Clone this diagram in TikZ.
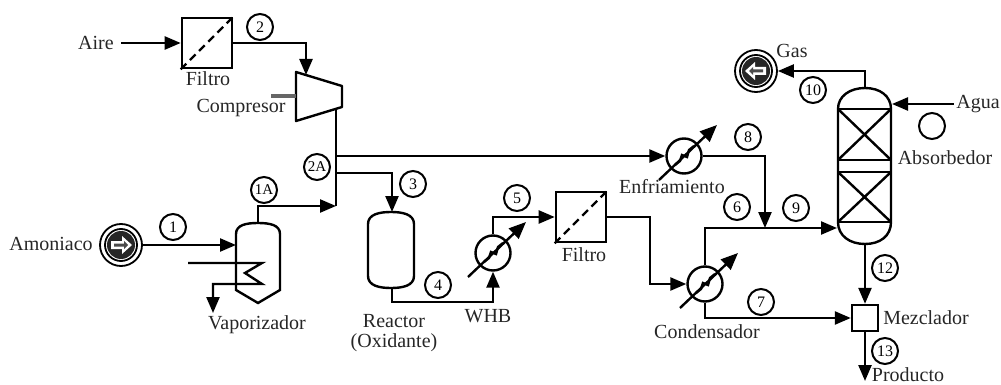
\documentclass[tikz,border=0pt]{standalone}
\usepackage{fontspec}
\setmainfont{Liberation Serif}
\usepackage{tikz}
\usetikzlibrary{arrows.meta}
\tikzset{
  line/.style={line width=1.2pt},
  flow/.style={line width=1.2pt, -{Triangle[length=8pt,width=6.5pt]}},
  stream/.style={draw, circle, line width=1pt, minimum size=13pt, inner sep=0pt, font=\footnotesize},
  filterbox/.style={draw, line width=1.3pt, minimum size=25pt, inner sep=0pt},
  hxchg/.style={draw, circle, line width=1.2pt, minimum size=17.5pt, inner sep=0pt},
  pumpring/.style={draw, circle, line width=0.9pt, minimum size=21pt, inner sep=0pt},
  tag/.style={inner sep=1pt, text=black!85}
}

\begin{document}
\begin{tikzpicture}[x=0.5pt,y=-0.5pt]
\useasboundingbox (0,0) rectangle (1001,385);

% text labels
\foreach \nm/\x/\y/\txt in {aire/96/43/Aire, tfila/208/79/Filtro, tcomp/241/108/Compresor,
    amon/51/244/Amoniaco, tvap/257/325/Vaporizador, treac/394/321/Reactor, toxi/394/343/(Oxidante),
    twhb/488/316/WHB, tfilb/584/255/Filtro, tenf/672/187/Enfriamiento, tcond/707/332/Condensador,
    tmez/926/318/Mezclador, tgas/792/51/Gas, agua/978/104/Agua, tabs/945/158/Absorbedor, tprod/908/375/Producto}
    \node[tag] (\nm) at (\x,\y) {\txt};

% stream numbers
\foreach \x/\y/\lab in {173/227/1, 260/27/2, 413/184/3, 438/285/4, 517/198/5, 737/207/6, 761/302/7,
    748/137/8, 796/208/9, 813/90/10, 885/268/12, 885/351/13}
    \node[stream] (s\lab) at (\x,\y) {\lab};
\node[stream, font=\fontsize{7.5}{9}\selectfont] (s1A) at (264,190) {1A};
\node[stream, font=\fontsize{7.5}{9}\selectfont] (s2A) at (317,167) {2A};
\node[stream] (sblank) at (932,126) {};

% filters and mixer
\node[filterbox] (fila) at (207,43) {};
\node[filterbox] (filb) at (581,217) {};
\foreach \f in {fila,filb}
    \draw[line, dash pattern=on 4pt off 2.5pt] (\f.south west) -- (\f.north east);
\node[draw, line width=1.2pt, minimum size=13pt, inner sep=0pt] (mez) at (865,318) {};

% heat exchangers
\node[hxchg] (hxa) at (493,253) {};
\node[hxchg] (hxb) at (705,284) {};
\node[hxchg] (hxc) at (684,156) {};
\foreach \h in {hxa,hxb,hxc} {
    \draw[line, -{Triangle[length=8.5pt,width=7pt]}] ([shift={(-25,24)}]\h.center) -- ([shift={(33,-31)}]\h.center);
    \draw[line] ([shift={(-9,9)}]\h.center) -- ([shift={(-4,5)}]\h.center) -- ([shift={(-2,-1)}]\h.center)
        -- ([shift={(3,1)}]\h.center) -- ([shift={(5,-6)}]\h.center) -- ([shift={(10,-10)}]\h.center);
}

% pumps
\node[pumpring] (pumpa) at (121,245) {};
\node[pumpring] (pumpb) at (756,71) {};
\foreach \p/\d in {pumpa/1,pumpb/-1} {
    \draw[line width=0.9pt] (\p) circle (16);
    \begin{scope}[shift={(\p)},xscale=\d]
    \fill[black!85] (0,0) circle (14);
    \fill[white] (-10,-4) -- (1,-4) -- (1,-9) -- (11,0) -- (1,9) -- (1,4) -- (-10,4) -- cycle;
    \fill[black!70] (-7,-1.5) -- (3,-1.5) -- (3,-4) -- (7,0) -- (3,4) -- (3,1.5) -- (-7,1.5) -- cycle;
    \end{scope}
}

% compressor
\draw[line, line join=round] (296,72) -- (342,86) -- (342,107) -- (296,121) -- cycle;
\draw[line width=2pt, draw=black!60] (271,96) coordinate (shaft) -- (296,96);
\coordinate (cpin) at (306,75);
\coordinate (cpout) at (336,109);
\coordinate (jmix) at (336,206);
\coordinate (jair) at (336,156);
\coordinate (jrea) at (336,173);

% vaporizer
\draw[line] (236,290) -- (236,234) .. controls (236,225) and (246,223) .. (258,223)
    .. controls (270,223) and (280,225) .. (280,234) -- (280,290) -- (258,303) -- cycle;
\coordinate (vapt) at (258,223);
\coordinate (vapin) at (236,245);
\coordinate (coilin) at (188,263);
\coordinate (coilout) at (213,313);

% reactor
\draw[line] (368,224) .. controls (368,214) and (380,212) .. (391,212)
    .. controls (402,212) and (414,214) .. (414,224) -- (414,276)
    .. controls (414,286) and (402,288) .. (391,288)
    .. controls (380,288) and (368,286) .. (368,276) -- cycle;
\coordinate (reat) at (392,212);
\coordinate (reab) at (392,288);
\coordinate (reabl) at (392,302);

% absorber
\draw[line] (838,109) .. controls (838,96) and (850,88) .. (865,88)
    .. controls (880,88) and (891,96) .. (891,109) -- (891,222)
    .. controls (891,236) and (880,244) .. (865,244)
    .. controls (850,244) and (838,236) .. (838,222) -- cycle;
\foreach \ya/\yb in {109/160,172/222} {
    \draw[line] (838,\ya) -- (891,\ya) (838,\yb) -- (891,\yb);
    \draw[line] (838,\ya) -- (891,\yb) (838,\yb) -- (891,\ya);
}
\coordinate (abst) at (865,88);
\coordinate (absb) at (865,244);
\coordinate (absin) at (837,228);
\coordinate (absw) at (892,104);

% connectors
\coordinate (filout) at (650,217);
\coordinate (jnine) at (765,228);
\coordinate (prod) at (865,381);
\draw[flow] ([xshift=2.5pt]aire.east) -- (fila.west);
\draw[flow] (fila.east) -| (cpin);
\draw[line] (cpout) -- (jmix);
\draw[flow] (jair) -- (hxc.west);
\draw[flow] (jrea) -| (reat);
\draw[flow] (vapt) |- (jmix);
\draw[flow] (pumpa.east) -- (vapin);
\draw[flow] (coilin) -- (262,263) -- (245,273) -- (262,284) -| (coilout);
\draw[flow] (reab) -- (reabl) -| (hxa.south);
\draw[flow] (hxa.north) |- (filb.west);
\draw[flow] (filb.east) -- (filout) |- (hxb.west);
\draw[flow] (hxb.north) |- (absin);
\draw[flow] (hxb.south) |- (mez.west);
\draw[flow] (hxc.east) -| (jnine);
\draw[flow] (abst) |- (pumpb.east);
\draw[flow] (agua.west) -- (absw);
\draw[flow] (absb) -- (mez.north);
\draw[flow] (mez.south) -- (prod);
\end{tikzpicture}
\end{document}
